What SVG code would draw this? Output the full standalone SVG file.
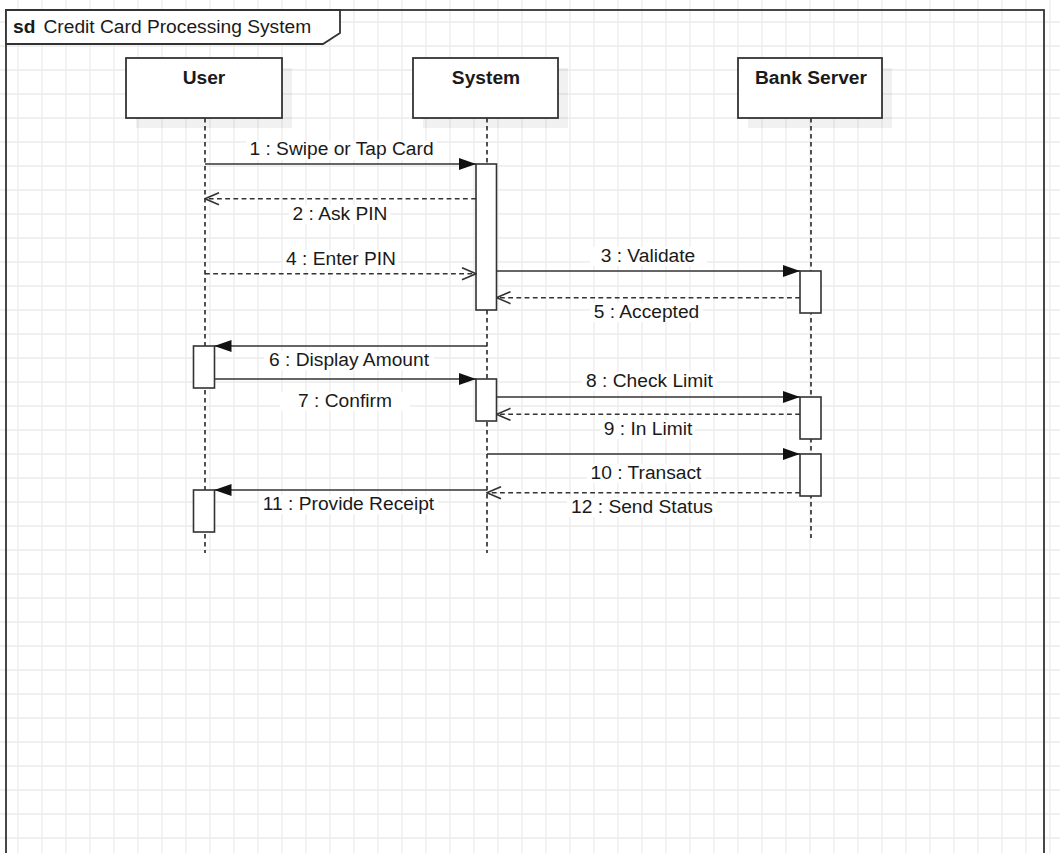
<svg xmlns="http://www.w3.org/2000/svg" width="1060" height="853" viewBox="0 0 1060 853">
<style>
.t{font-family:"Liberation Sans",Arial,sans-serif;font-size:19.2px;fill:#1a1a1a}
.b{font-weight:bold;text-anchor:middle}
.m{text-anchor:middle}
.box{fill:#fff;stroke:#333;stroke-width:1.8}
.sh{fill:#000;fill-opacity:0.055}
.act{fill:#fff;stroke:#333;stroke-width:1.6}
.life{stroke:#1a1a1a;stroke-width:1.5;stroke-dasharray:4.5 3.5;fill:none}
.sol{stroke:#333;stroke-width:1.6;fill:none}
.dsh{stroke:#333;stroke-width:1.6;fill:none;stroke-dasharray:4.8 3.4}
.lb{fill:#fff}
</style>
<defs>
<pattern id="grid" x="6" y="10" width="24" height="24" patternUnits="userSpaceOnUse">
<path d="M12 0V24M0 12H24" stroke="#ececec" stroke-width="1.3" fill="none"/>
</pattern>
<marker id="fa" viewBox="0 0 17 12" refX="17" refY="6" markerWidth="17" markerHeight="12" markerUnits="userSpaceOnUse" orient="auto">
<path d="M0 0L17 6L0 12Z" fill="#111"/>
</marker>
<marker id="oa" viewBox="0 0 16 14" refX="15" refY="7" markerWidth="16" markerHeight="14" markerUnits="userSpaceOnUse" orient="auto">
<path d="M1 1L15 7L1 13" fill="none" stroke="#333" stroke-width="1.6"/>
</marker>
</defs>
<rect x="0" y="0" width="1060" height="853" fill="#fff"/>
<rect x="0" y="0" width="1060" height="853" fill="url(#grid)"/>

<g id="frame">
<rect x="6" y="10" width="1038" height="870" fill="none" stroke="#333" stroke-width="1.8"/>
<path d="M6 10H340V33L323 44H6Z" fill="#fff" stroke="#333" stroke-width="1.8"/>
<text class="t" x="13" y="33" font-weight="bold">sd</text>
<text class="t" x="43.5" y="33">Credit Card Processing System</text>
</g>

<g id="user">
<rect class="sh" x="136" y="68" width="156" height="60"/>
<line class="life" x1="205" y1="118" x2="205" y2="553"/>
<rect class="box" x="126" y="58" width="156" height="60"/>
<text class="t b" x="204" y="84">User</text>
<rect class="act" x="193.5" y="346" width="21" height="42"/>
<rect class="act" x="193.5" y="490" width="21" height="42"/>
</g>

<g id="system">
<rect class="sh" x="423" y="68" width="145" height="60"/>
<line class="life" x1="487" y1="118" x2="487" y2="553"/>
<rect class="box" x="413" y="58" width="145" height="60"/>
<text class="t b" x="486" y="84">System</text>
<rect class="act" x="476" y="164" width="20.5" height="146"/>
<rect class="act" x="476" y="379" width="20.5" height="42"/>
</g>

<g id="bank">
<rect class="sh" x="748" y="68" width="144" height="60"/>
<line class="life" x1="811" y1="118" x2="811" y2="538"/>
<rect class="box" x="738" y="58" width="144" height="60"/>
<text class="t b" x="811" y="84">Bank Server</text>
<rect class="act" x="800" y="271" width="21" height="42"/>
<rect class="act" x="800" y="397" width="21" height="42"/>
<rect class="act" x="800" y="454" width="21" height="42"/>
</g>

<g id="connectors">
<line class="sol" x1="205" y1="164" x2="476" y2="164" marker-end="url(#fa)"/>
<line class="dsh" x1="476" y1="198.7" x2="205" y2="198.7" marker-end="url(#oa)"/>
<line class="dsh" x1="205" y1="273.7" x2="476" y2="273.7" marker-end="url(#oa)"/>
<line class="sol" x1="496.5" y1="271" x2="800" y2="271" marker-end="url(#fa)"/>
<line class="dsh" x1="800" y1="297.7" x2="496.5" y2="297.7" marker-end="url(#oa)"/>
<line class="sol" x1="487" y1="346" x2="214.5" y2="346" marker-end="url(#fa)"/>
<line class="sol" x1="214.5" y1="379" x2="476" y2="379" marker-end="url(#fa)"/>
<line class="sol" x1="496.5" y1="397" x2="800" y2="397" marker-end="url(#fa)"/>
<line class="dsh" x1="800" y1="414.3" x2="496.5" y2="414.3" marker-end="url(#oa)"/>
<line class="sol" x1="487" y1="454" x2="800" y2="454" marker-end="url(#fa)"/>
<line class="dsh" x1="800" y1="492.7" x2="487" y2="492.7" marker-end="url(#oa)"/>
<line class="sol" x1="487" y1="490" x2="214.5" y2="490" marker-end="url(#fa)"/>

<rect class="lb" x="246" y="141" width="191" height="19"/>
<text class="t m" x="341.5" y="155">1 : Swipe or Tap Card</text>
<rect class="lb" x="289" y="205" width="101" height="19"/>
<text class="t m" x="340" y="220">2 : Ask PIN</text>
<rect class="lb" x="283" y="250" width="115" height="19"/>
<text class="t m" x="341" y="265">4 : Enter PIN</text>
<rect class="lb" x="590" y="247" width="117" height="19"/>
<text class="t m" x="648" y="262">3 : Validate</text>
<rect class="lb" x="590" y="303" width="113" height="19"/>
<text class="t m" x="646.5" y="318">5 : Accepted</text>
<rect class="lb" x="264" y="351" width="170" height="19"/>
<text class="t m" x="349" y="366">6 : Display Amount</text>
<rect class="lb" x="280" y="392" width="130" height="19"/>
<text class="t m" x="345" y="407">7 : Confirm</text>
<rect class="lb" x="582" y="372" width="135" height="19"/>
<text class="t m" x="649.5" y="387">8 : Check Limit</text>
<rect class="lb" x="600" y="420" width="95" height="19"/>
<text class="t m" x="648" y="435">9 : In Limit</text>
<rect class="lb" x="587" y="464" width="118" height="19"/>
<text class="t m" x="646" y="479">10 : Transact</text>
<rect class="lb" x="567" y="498" width="150" height="19"/>
<text class="t m" x="642" y="513">12 : Send Status</text>
<rect class="lb" x="259" y="495" width="179" height="19"/>
<text class="t m" x="348.5" y="510">11 : Provide Receipt</text>
</g>
</svg>
